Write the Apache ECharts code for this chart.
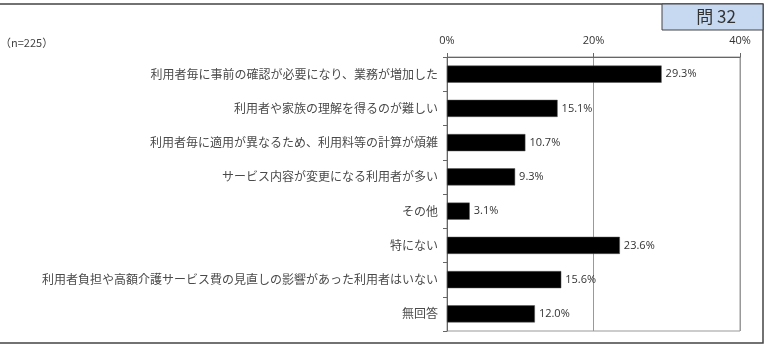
<!DOCTYPE html>
<html><head><meta charset="utf-8">
<script src="https://cdn.jsdelivr.net/npm/echarts@6/dist/echarts.min.js"></script>
<style>html,body{margin:0;padding:0;background:#fff}#c{width:773px;height:345px}</style>
</head><body><div id="c"></div>
<script>
var categories = [
  '利用者毎に事前の確認が必要になり、業務が増加した',
  '利用者や家族の理解を得るのが難しい',
  '利用者毎に適用が異なるため、利用料等の計算が煩雑',
  'サービス内容が変更になる利用者が多い',
  'その他',
  '特にない',
  '利用者負担や高額介護サービス費の見直しの影響があった利用者はいない',
  '無回答'
];
var values = [29.3, 15.1, 10.7, 9.3, 3.1, 23.6, 15.6, 12.0];
var xTicks = [0, 20, 40];
var sampleNote = '（n=225）';
var questionTag = '問 32';

var chart = echarts.init(document.getElementById('c'));
chart.setOption({
  animation: false,
  grid: {left: 447, right: 33, top: 57, bottom: 14, show: true, borderColor: '#999', borderWidth: 1},
  xAxis: {
    type: 'value', position: 'top', min: xTicks[0], max: xTicks[xTicks.length-1], interval: 20,
    axisLine: {show: true, lineStyle: {color: '#666'}},
    axisTick: {show: true, length: 4, lineStyle: {color: '#666'}},
    axisLabel: {formatter: '{value}%', color: '#333', fontSize: 11, fontFamily: 'Open Sans', margin: 11},
    splitLine: {show: true, lineStyle: {color: '#999'}}
  },
  yAxis: {
    type: 'category', inverse: true, data: categories,
    axisLine: {show: true, lineStyle: {color: '#666'}},
    axisTick: {show: true, length: 4, lineStyle: {color: '#666'}},
    axisLabel: {color: '#4a4a4a', fontSize: 12, fontFamily: 'Noto Sans CJK JP', margin: 9}
  },
  series: [{
    type: 'bar', data: values, barWidth: '50%',
    itemStyle: {color: '#000', borderColor: '#555', borderWidth: 0.5},
    label: {show: true, position: 'right', distance: 4, formatter: function(p){return p.value.toFixed(1)+'%';},
      color: '#333', fontSize: 11, fontFamily: 'Open Sans'}
  }],
  graphic: [
    {type: 'rect', shape: {x: -5, y: 4, width: 768, height: 339}, style: {fill: 'none', stroke: '#444', lineWidth: 1.5}, z: 10},
    {type: 'rect', shape: {x: 662, y: 4, width: 101, height: 26}, style: {fill: '#c6d9f1', stroke: '#444', lineWidth: 1}, z: 11},
    {type: 'text', x: 716, y: 17, style: {text: questionTag, fill: '#333', font: '17px "Noto Sans CJK JP"', textAlign: 'center', textVerticalAlign: 'middle'}, z: 12},
    {type: 'text', x: 0, y: 43, style: {text: sampleNote, fill: '#444', font: '11px "Noto Sans CJK JP"', textAlign: 'left', textVerticalAlign: 'middle'}, z: 12}
  ]
});
</script></body></html>
